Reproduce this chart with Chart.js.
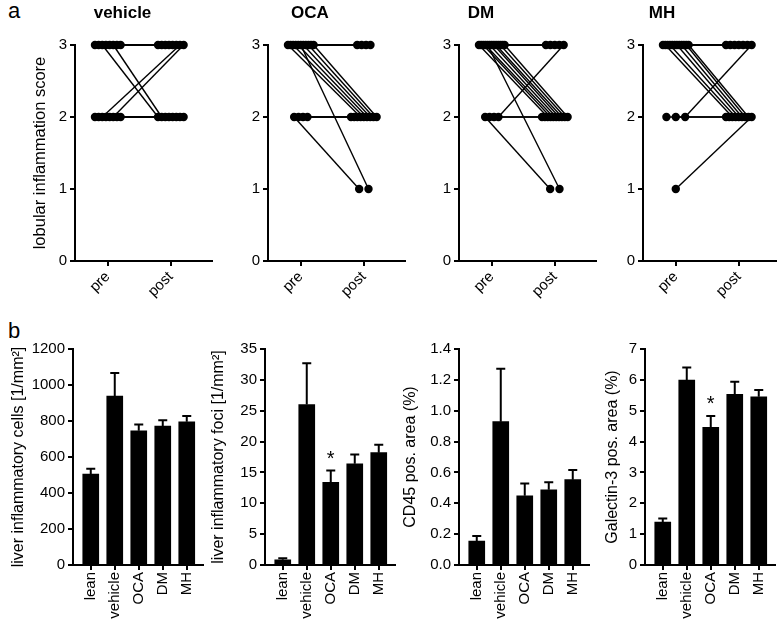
<!DOCTYPE html>
<html>
<head>
<meta charset="utf-8">
<script src="https://cdn.jsdelivr.net/npm/chart.js@4.4.1/dist/chart.umd.min.js"></script>
<style>
html, body { margin: 0; padding: 0; background: #fff; overflow: hidden; width: 777px; height: 626px; }
#fig { position: relative; width: 777px; height: 626px; overflow: hidden; font-family: "Liberation Sans", Arial, sans-serif; }
.letter { position: absolute; font-size: 22px; line-height: 1; color: #000; }
</style>
</head>
<body>
<div id="fig">
  <div class="letter" style="left:8px; top:0px">a</div>
  <div class="letter" style="left:8px; top:320px">b</div>
</div>
<script>
// lobular inflammation score per animal, before and after treatment
const vehiclePre  = [3,3,3,3,3,3,3,3,2,2,2,2,2,2,2,2];
const vehiclePost = [3,3,2,3,3,2,3,3,2,2,3,2,2,3,2,2];
const ocaPre  = [2,2,2,2,3,3,3,3,3,3,3,3,3,3,3];
const ocaPost = [1,2,2,2,2,3,2,3,2,1,2,3,2,3,2];
const dmPre  = [2,2,2,3,3,3,3,3,3,3,3,3,3,3,3,3,2];
const dmPost = [1,2,2,2,3,2,2,1,2,3,2,2,3,2,3,2,3];
const mhPre  = [2,2,3,3,3,3,3,3,3,3,3,3,3,3,2,1];
const mhPost = [2,2,3,2,3,2,3,3,2,3,2,3,2,2,3,2];
const timepoints = ['pre', 'post'];
const scoreTicks = [0, 1, 2, 3];

// histology summary, mean and SEM per group
const groups = ['lean', 'vehicle', 'OCA', 'DM', 'MH'];
const cellsMean = [505, 939, 746, 772, 796];
const cellsSem  = [30, 128, 35, 32, 32];
const fociMean = [0.85, 26.0, 13.4, 16.4, 18.2];
const fociSem  = [0.25, 6.7, 1.9, 1.5, 1.3];
const cd45Mean = [0.155, 0.929, 0.449, 0.488, 0.553];
const cd45Sem  = [0.033, 0.343, 0.080, 0.049, 0.063];
const gal3Mean = [1.39, 5.99, 4.46, 5.53, 5.45];
const gal3Sem  = [0.12, 0.41, 0.37, 0.41, 0.22];
const fociStars = ['', '', '*', '', ''];
const gal3Stars = ['', '', '*', '', ''];

Chart.defaults.font.family = '"Liberation Sans", Arial, sans-serif';
Chart.defaults.color = '#000';
Chart.defaults.animation = false;

const axisGrid = { display: true, drawOnChartArea: false, drawTicks: true, tickLength: 5, color: '#000', lineWidth: 2 };
const axisBorder = { display: true, color: '#000', width: 2 };

function makeCanvas(left, top, width, height) {
    const c = document.createElement('canvas');
    c.width = width;
    c.height = height;
    c.style.cssText = `position:absolute;left:${left}px;top:${top}px;width:${width}px;height:${height}px`;
    document.getElementById('fig').appendChild(c);
    return c;
}

// spread animals with the same score side by side, like the before-after plot
const PX_PER_UNIT = 64;
function rowOffsets(scores) {
    const counts = {}, seen = {};
    scores.forEach(s => counts[s] = (counts[s] || 0) + 1);
    return scores.map(s => {
        const n = counts[s];
        seen[s] = seen[s] === undefined ? 0 : seen[s] + 1;
        const gap = n <= 3 ? 9.5 : Math.min(4.5, 26 / (n - 1));
        return (seen[s] - (n - 1) / 2) * gap / PX_PER_UNIT;
    });
}

// top row: paired scores
function scoreChart(left, axisX, padLeft, title, pre, post, yTitle) {
    const width = axisX - left + 139 + 2;
    const canvas = makeCanvas(left, 0, width, 300);
    const preOff = rowOffsets(pre), postOff = rowOffsets(post);
    const datasets = pre.map((p, i) => ({
        data: [{ x: 0 + preOff[i], y: p }, { x: 1 + postOff[i], y: post[i] }],
        showLine: true,
        borderColor: '#000',
        borderWidth: 1.4,
        pointRadius: 4.2,
        pointBackgroundColor: '#000',
        pointBorderWidth: 0,
        clip: false
    }));
    const yWidth = axisX - left - padLeft;
    return new Chart(canvas, {
        type: 'scatter',
        data: { datasets: datasets },
        options: {
            responsive: false,
            devicePixelRatio: 1,
            events: [],
            layout: { padding: { left: padLeft, right: 2, top: 0, bottom: 0 } },
            plugins: {
                legend: { display: false },
                tooltip: { enabled: false },
                title: {
                    display: true,
                    text: title,
                    color: '#000',
                    font: { size: 17, weight: 'bold' },
                    padding: { top: 3, bottom: 21.6 }
                }
            },
            scales: {
                x: {
                    type: 'linear',
                    min: -0.52,
                    max: 1.65,
                    afterBuildTicks: s => { s.ticks = [{ value: 0 }, { value: 1 }]; },
                    afterFit: s => { s.height = 39; },
                    ticks: { callback: v => timepoints[v], minRotation: 45, maxRotation: 45, font: { size: 15 }, color: '#000', padding: 2 },
                    grid: axisGrid,
                    border: axisBorder
                },
                y: {
                    min: 0,
                    max: 3,
                    afterBuildTicks: s => { s.ticks = scoreTicks.map(v => ({ value: v })); },
                    afterFit: s => { s.width = yWidth; },
                    ticks: { font: { size: 15 }, color: '#000', padding: 3 },
                    grid: axisGrid,
                    border: axisBorder,
                    title: { display: !!yTitle, text: yTitle || '', color: '#000', font: { size: 16.5 }, padding: { top: 0, bottom: 0 } }
                }
            }
        }
    });
}

// error bars (upper only) and significance stars
const errorBars = {
    id: 'errorBars',
    afterDatasetsDraw(chart) {
        const ds = chart.data.datasets[0];
        const y = chart.scales.y;
        const ctx = chart.ctx;
        ctx.save();
        ctx.strokeStyle = '#000';
        ctx.fillStyle = '#000';
        ctx.lineWidth = 2;
        chart.getDatasetMeta(0).data.forEach((bar, i) => {
            const top = y.getPixelForValue(ds.data[i].y + ds.errors[i]);
            ctx.beginPath();
            ctx.moveTo(bar.x, bar.y);
            ctx.lineTo(bar.x, top);
            ctx.moveTo(bar.x - 4.5, top);
            ctx.lineTo(bar.x + 4.5, top);
            ctx.stroke();
            if (ds.stars[i]) {
                ctx.font = '20px "Liberation Sans", Arial, sans-serif';
                ctx.textAlign = 'center';
                ctx.textBaseline = 'alphabetic';
                ctx.fillText(ds.stars[i], bar.x, top - 5.5);
            }
        });
        ctx.restore();
    }
};

// bottom row: group means
function barChart(left, axisX, mean, sem, stars, yMax, yStep, yTitle, decimals) {
    const yWidth = axisX - left;
    const canvas = makeCanvas(left, 320, yWidth + 132 + 2, 306);
    return new Chart(canvas, {
        type: 'bar',
        data: {
            datasets: [{
                data: mean.map((v, i) => ({ x: i + 1, y: v })),
                backgroundColor: '#000',
                barThickness: 16,
                errors: sem,
                stars: stars
            }]
        },
        options: {
            responsive: false,
            devicePixelRatio: 1,
            events: [],
            layout: { padding: { left: 0, right: 2, top: 29, bottom: 0 } },
            plugins: { legend: { display: false }, tooltip: { enabled: false } },
            scales: {
                x: {
                    type: 'linear',
                    offset: false,
                    min: 0.26,
                    max: 5.66,
                    afterBuildTicks: s => { s.ticks = groups.map((g, i) => ({ value: i + 1 })); },
                    afterFit: s => { s.height = 61; },
                    ticks: { callback: v => groups[v - 1], minRotation: 90, maxRotation: 90, autoSkip: false, font: { size: 15 }, color: '#000', padding: 2 },
                    grid: Object.assign({}, axisGrid, { offset: false }),
                    border: axisBorder
                },
                y: {
                    min: 0,
                    max: yMax,
                    afterFit: s => { s.width = yWidth; },
                    ticks: { stepSize: yStep, callback: v => v.toFixed(decimals), font: { size: 15 }, color: '#000', padding: 3 },
                    grid: axisGrid,
                    border: axisBorder,
                    title: { display: true, text: yTitle, color: '#000', font: { size: 16 }, padding: { top: 0, bottom: 0 } }
                }
            }
        },
        plugins: [errorBars]
    });
}

scoreChart(0, 75, 31, 'vehicle', vehiclePre, vehiclePost, 'lobular inflammation score');
scoreChart(213, 268, 0, 'OCA', ocaPre, ocaPost);
scoreChart(364, 459, 0, 'DM', dmPre, dmPost);
scoreChart(542, 643, 0, 'MH', mhPre, mhPost);

barChart(9, 73, cellsMean, cellsSem, ['', '', '', '', ''], 1200, 200, 'liver inflammatory cells [1/mm²]', 0);
barChart(209, 265, fociMean, fociSem, fociStars, 35, 5, 'liver inflammatory foci [1/mm²]', 0);
barChart(401, 459, cd45Mean, cd45Sem, ['', '', '', '', ''], 1.4, 0.2, 'CD45 pos. area (%)', 1);
barChart(603, 645, gal3Mean, gal3Sem, gal3Stars, 7, 1, 'Galectin-3 pos. area (%)', 0);
</script>
</body>
</html>
